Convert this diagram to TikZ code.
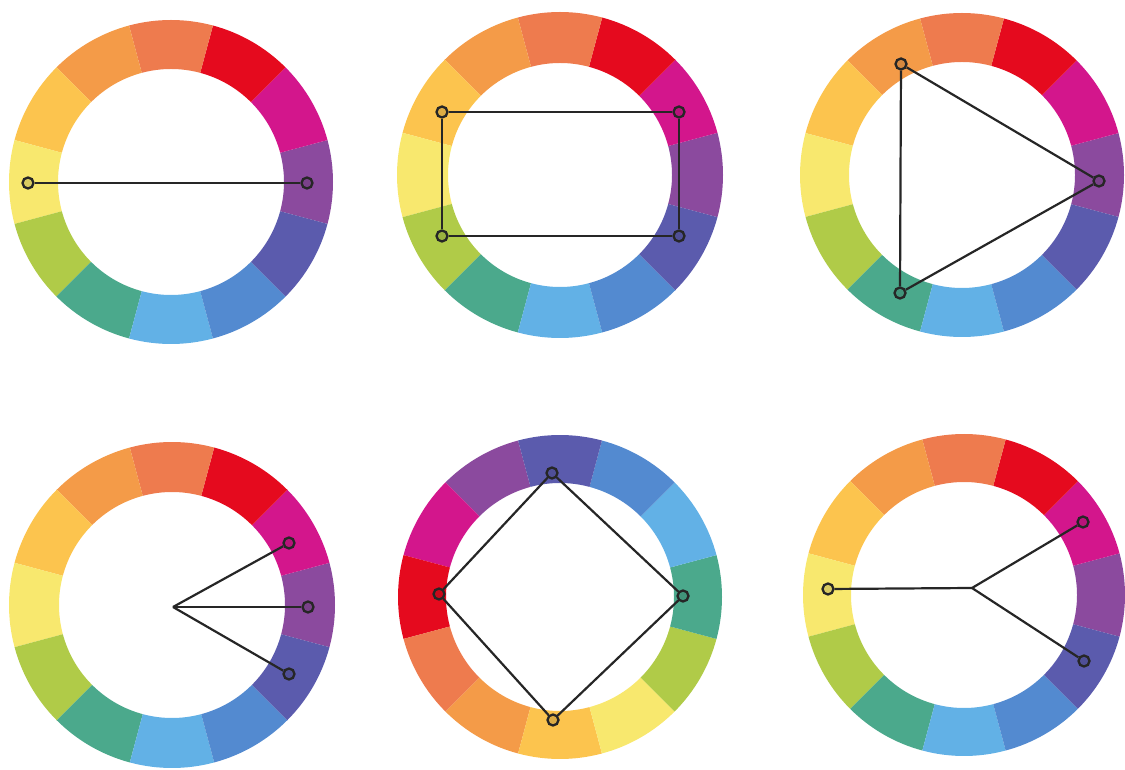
\documentclass[tikz,border=0pt]{standalone}
\definecolor{cpurple}{HTML}{8B4A9E}
\definecolor{cmagenta}{HTML}{D3168C}
\definecolor{cred}{HTML}{E50A1E}
\definecolor{ccoral}{HTML}{EE7B4E}
\definecolor{corange}{HTML}{F49B48}
\definecolor{cyorange}{HTML}{FCC44E}
\definecolor{cyellow}{HTML}{F8E86E}
\definecolor{cygreen}{HTML}{B0CB48}
\definecolor{cteal}{HTML}{4BA98C}
\definecolor{clblue}{HTML}{62B1E6}
\definecolor{cblue}{HTML}{538AD0}
\definecolor{cbviolet}{HTML}{5B5BAD}
\definecolor{cline}{HTML}{262626}
\newcommand\colwheel[5]{%
  \foreach \cc [count=\k from 0] in {cpurple,cmagenta,cred,ccoral,corange,cyorange,cyellow,cygreen,cteal,clblue,cblue,cbviolet}{%
    \pgfmathsetmacro\aa{#5+30*\k-15}%
    \pgfmathsetmacro\bb{#5+30*\k+15}%
    \fill[\cc] ([shift={(\aa:#3)}]#1,#2) arc[start angle=\aa,end angle=\bb,radius=#3]
      -- ([shift={(\bb:#4)}]#1,#2) arc[start angle=\bb,end angle=\aa,radius=#4] -- cycle;
  }}
\tikzset{
  mk/.style={circle,draw=cline,line width=2.3pt,inner sep=0pt,minimum size=11pt,fill=black,fill opacity=0.12,text opacity=1},
  conn/.style={draw=cline,line width=2.2pt}
}
\begin{document}
\begin{tikzpicture}[x=1pt,y=1pt]
\useasboundingbox (0,0) rectangle (1125,769);
% wheels
\colwheel{171}{587}{162}{113}{0}
\colwheel{560}{594}{163}{112}{0}
\colwheel{962}{594}{162}{113}{0}
\colwheel{172}{164}{163}{113}{0}
\colwheel{560}{172}{162}{114}{120}
\colwheel{964}{174}{161}{113}{0}
% wheel 1: complementary
\node[mk] (a1) at (28,586) {};
\node[mk] (a2) at (307,586) {};
\draw[conn] (a1) -- (a2);
% wheel 2: rectangle
\node[mk] (b1) at (442,657) {};
\node[mk] (b2) at (679,657) {};
\node[mk] (b3) at (679,533) {};
\node[mk] (b4) at (442,533) {};
\draw[conn] (b1) -- (b2);
\draw[conn] (b2) -- (b3);
\draw[conn] (b3) -- (b4);
\draw[conn] (b4) -- (b1);
% wheel 3: triad
\node[mk] (t1) at (901,705) {};
\node[mk] (t2) at (1099,588) {};
\node[mk] (t3) at (900,476) {};
\draw[conn] (t1) -- (t2);
\draw[conn] (t2) -- (t3);
\draw[conn] (t3) -- (t1);
% wheel 4: analogous
\coordinate (c4) at (173,162);
\node[mk] (d1) at (289,226) {};
\node[mk] (d2) at (308,162) {};
\node[mk] (d3) at (289,95) {};
\draw[conn] (c4) -- (d1);
\draw[conn] (c4) -- (d2);
\draw[conn] (c4) -- (d3);
% wheel 5: square
\node[mk] (e1) at (552,296) {};
\node[mk] (e2) at (683,173) {};
\node[mk] (e3) at (553,49) {};
\node[mk] (e4) at (439,175) {};
\draw[conn] (e1) -- (e2);
\draw[conn] (e2) -- (e3);
\draw[conn] (e3) -- (e4);
\draw[conn] (e4) -- (e1);
% wheel 6: split complementary
\coordinate (c6) at (972,181);
\node[mk] (f1) at (828,180) {};
\node[mk] (f2) at (1083,247) {};
\node[mk] (f3) at (1084,108) {};
\draw[conn] (c6) -- (f1);
\draw[conn] (c6) -- (f2);
\draw[conn] (c6) -- (f3);
\end{tikzpicture}
\end{document}
